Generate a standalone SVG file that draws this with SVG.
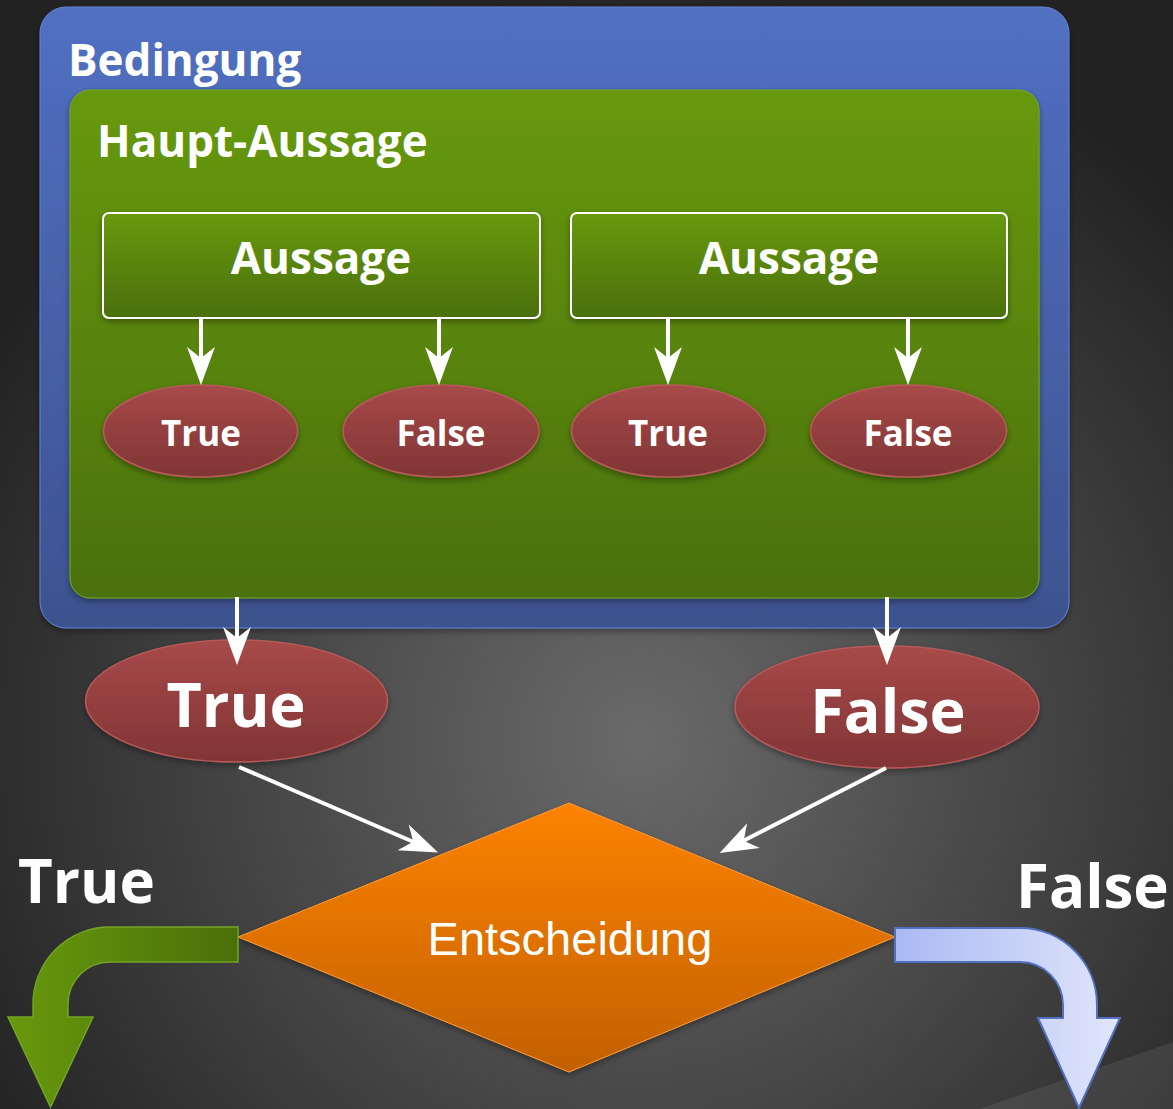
<svg xmlns="http://www.w3.org/2000/svg" width="1173" height="1109" viewBox="0 0 1173 1109">
  <defs>
    <radialGradient id="bg" gradientUnits="userSpaceOnUse" cx="640" cy="740" r="760">
      <stop offset="0" stop-color="#6a6a6a"/>
      <stop offset="0.55" stop-color="#434343"/>
      <stop offset="1" stop-color="#222222"/>
    </radialGradient>
    <linearGradient id="gBlue" x1="0" y1="0" x2="0" y2="1">
      <stop offset="0" stop-color="#5170c2"/>
      <stop offset="1" stop-color="#3d528f"/>
    </linearGradient>
    <linearGradient id="gGreen" x1="0" y1="0" x2="0" y2="1">
      <stop offset="0" stop-color="#67990d"/>
      <stop offset="1" stop-color="#4a710a"/>
    </linearGradient>
    <linearGradient id="gBox" x1="0" y1="0" x2="0" y2="1">
      <stop offset="0" stop-color="#68990e"/>
      <stop offset="1" stop-color="#4a7009"/>
    </linearGradient>
    <linearGradient id="gRed" x1="0" y1="0" x2="0" y2="1">
      <stop offset="0" stop-color="#a74949"/>
      <stop offset="1" stop-color="#813535"/>
    </linearGradient>
    <linearGradient id="gOrange" x1="0" y1="0" x2="0" y2="1">
      <stop offset="0" stop-color="#fd8300"/>
      <stop offset="1" stop-color="#c26003"/>
    </linearGradient>
    <linearGradient id="gTrueArrow" gradientUnits="userSpaceOnUse" x1="8" y1="0" x2="238" y2="0">
      <stop offset="0" stop-color="#67990d"/>
      <stop offset="1" stop-color="#4a7009"/>
    </linearGradient>
    <linearGradient id="gFalseArrow" gradientUnits="userSpaceOnUse" x1="895" y1="0" x2="1120" y2="0">
      <stop offset="0" stop-color="#aab9f3"/>
      <stop offset="1" stop-color="#e0e6fb"/>
    </linearGradient>
    <filter id="shadow" x="-10%" y="-10%" width="120%" height="130%">
      <feDropShadow dx="0" dy="3" stdDeviation="3" flood-color="#000" flood-opacity="0.35"/>
    </filter>
    <marker id="head" viewBox="-40 -16 42 32" refX="-24" refY="0" markerWidth="42" markerHeight="32" markerUnits="userSpaceOnUse" orient="auto">
      <path d="M0,0 L-38,-14 L-27,0 L-38,14 Z" fill="#ffffff"/>
    </marker>
    <style>
      .bold { font-family: "Open Sans", "Liberation Sans", sans-serif; font-weight: 700; fill: #ffffff; }
      .plain { font-family: "Liberation Sans", Arial, sans-serif; fill: #ffffff; }
      .oval { fill: url(#gRed); stroke: #b65a5a; stroke-width: 1.5; filter: url(#shadow); }
      .conn { stroke: #ffffff; stroke-width: 4; fill: none; marker-end: url(#head); }
    </style>
  </defs>

  <!-- background -->
  <rect x="0" y="0" width="1173" height="1109" fill="url(#bg)"/>
  <polygon points="979,1109 1173,1042 1173,1109" fill="#ffffff" fill-opacity="0.08"/>

  <!-- outer condition frame -->
  <g id="bedingung">
    <rect x="40" y="7" width="1029" height="621" rx="26" fill="url(#gBlue)" stroke="#6482d2" stroke-width="1" filter="url(#shadow)"/>
    <text class="bold" x="68" y="76" font-size="44">Bedingung</text>
  </g>

  <!-- main statement -->
  <g id="haupt-aussage">
    <rect x="70" y="90" width="969" height="508" rx="20" fill="url(#gGreen)" stroke="#76a822" stroke-width="1" filter="url(#shadow)"/>
    <text class="bold" x="97" y="157" font-size="44">Haupt-Aussage</text>
  </g>

  <!-- sub statements -->
  <g id="aussage-1">
    <rect x="103" y="213" width="437" height="105" rx="6" fill="url(#gBox)" stroke="#ffffff" stroke-width="2" filter="url(#shadow)"/>
    <text class="bold" x="321" y="274" font-size="44" text-anchor="middle">Aussage</text>
  </g>
  <g id="aussage-2">
    <rect x="571" y="213" width="436" height="105" rx="6" fill="url(#gBox)" stroke="#ffffff" stroke-width="2" filter="url(#shadow)"/>
    <text class="bold" x="789" y="274" font-size="44" text-anchor="middle">Aussage</text>
  </g>

  <!-- small results -->
  <g id="true-1">
    <ellipse class="oval" cx="200.5" cy="431" rx="97" ry="46"/>
    <text class="bold" x="201" y="446" font-size="35" text-anchor="middle">True</text>
  </g>
  <g id="false-1">
    <ellipse class="oval" cx="441" cy="431" rx="98" ry="46"/>
    <text class="bold" x="441" y="446" font-size="35" text-anchor="middle">False</text>
  </g>
  <g id="true-2">
    <ellipse class="oval" cx="668.5" cy="431" rx="97" ry="46"/>
    <text class="bold" x="668" y="446" font-size="35" text-anchor="middle">True</text>
  </g>
  <g id="false-2">
    <ellipse class="oval" cx="908.5" cy="431" rx="98" ry="46"/>
    <text class="bold" x="908" y="446" font-size="35" text-anchor="middle">False</text>
  </g>

  <!-- overall results -->
  <g id="true-main">
    <ellipse class="oval" cx="236.5" cy="701" rx="151" ry="61"/>
    <text class="bold" x="236" y="727" font-size="61" text-anchor="middle">True</text>
  </g>
  <g id="false-main">
    <ellipse class="oval" cx="887" cy="707" rx="152" ry="61"/>
    <text class="bold" x="888" y="733" font-size="61" text-anchor="middle">False</text>
  </g>

  <!-- decision -->
  <g id="entscheidung">
    <polygon points="569,803 895,937 569,1072 238,937" fill="url(#gOrange)" stroke="#ff9a33" stroke-width="1" filter="url(#shadow)"/>
    <text class="plain" x="570" y="955" font-size="47" text-anchor="middle">Entscheidung</text>
  </g>

  <!-- exits -->
  <g id="exit-true">
    <path d="M238,927 L110,927 A77,77 0 0 0 33,1004 L33,1017 L8,1017 L50.5,1107 L93,1017 L68,1017 L68,1004 A42,42 0 0 1 110,962 L238,962 Z" fill="url(#gTrueArrow)" stroke="#72a624" stroke-width="1.5"/>
    <text class="bold" x="18" y="903" font-size="60">True</text>
  </g>
  <g id="exit-false">
    <path d="M895,928 L1020,928 A77,77 0 0 1 1097,1005 L1097,1018 L1120,1018 L1079,1108 L1038,1018 L1063,1018 L1063,1005 A43,43 0 0 0 1020,962 L895,962 Z" fill="url(#gFalseArrow)" stroke="#5370c0" stroke-width="2"/>
    <text class="bold" x="1016" y="908" font-size="60">False</text>
  </g>

  <!-- connectors -->
  <g id="connectors">
    <line class="conn" x1="201" y1="318" x2="201" y2="361"/>
    <line class="conn" x1="439" y1="318" x2="439" y2="361"/>
    <line class="conn" x1="668" y1="318" x2="668" y2="361"/>
    <line class="conn" x1="908" y1="318" x2="908" y2="361"/>
    <line class="conn" x1="237" y1="597" x2="237" y2="641"/>
    <line class="conn" x1="887" y1="597" x2="887" y2="641"/>
    <line class="conn" x1="239" y1="767" x2="416" y2="843"/>
    <line class="conn" x1="886" y1="768" x2="741" y2="842"/>
  </g>
</svg>
